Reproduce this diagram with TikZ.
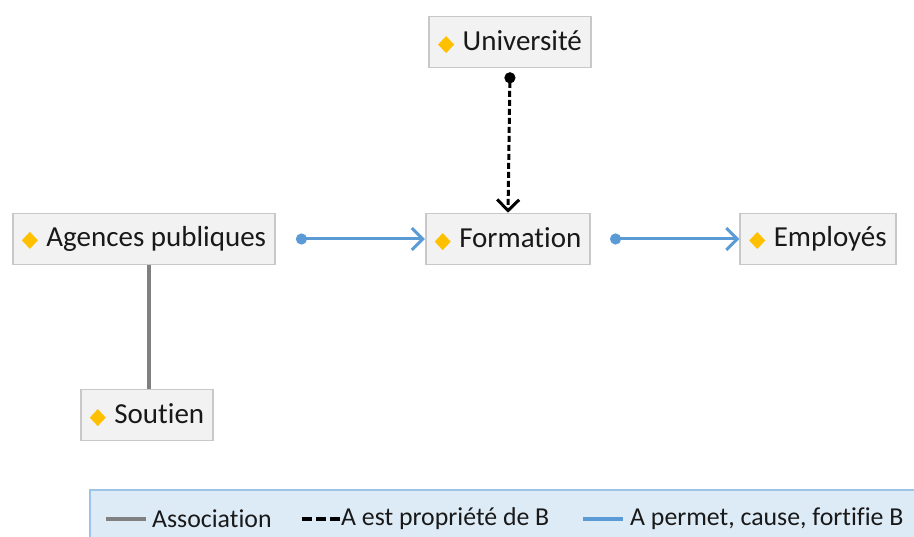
\documentclass[tikz,border=0pt]{standalone}
\usepackage{fontspec}
\setmainfont[Ligatures=NoCommon]{Carlito}
\usetikzlibrary{arrows.meta}

\definecolor{boxgray}{HTML}{F2F2F2}
\definecolor{boxline}{HTML}{C8C8C8}
\definecolor{gold}{HTML}{FFC000}
\definecolor{causeblue}{HTML}{5B9BD5}
\definecolor{assocgray}{HTML}{808080}
\definecolor{legendfill}{HTML}{DDEBF7}

\newcommand{\dmd}{\tikz[baseline=-0.45ex]\fill[gold] (0pt,8.5pt) -- (8pt,0pt) -- (0pt,-8.5pt) -- (-8pt,0pt) -- cycle;\hspace{2pt}}

\tikzset{
  concept/.style={draw=boxline, line width=1.6pt, fill=boxgray, minimum height=51pt,
    inner xsep=9pt, text=black!90, font=\fontsize{29}{31}\selectfont},
  cause/.style={causeblue, line width=3pt, {Circle[length=11pt]}-{Straight Barb[length=11pt,width=22pt,line width=3pt]}},
  property/.style={black, line width=3pt, dash pattern=on 6pt off 3pt,
    {Circle[length=11pt]}-{Straight Barb[length=11pt,width=22pt,line width=3pt]}},
  assoc/.style={assocgray, line width=3.2pt},
  legendtext/.style={anchor=west, inner sep=0pt, text=black!90, font=\fontsize{25.8}{28}\selectfont}
}

\begin{document}
\begin{tikzpicture}[x=1pt, y=-1pt]
  \useasboundingbox (0,0) rectangle (914,537);

  % concepts
  \node[concept] (univ) at (510, 42) {\dmd\ Université};
  \node[concept] (agences) at (144, 239) {\dmd\ Agences publiques};
  \node[concept] (formation) at (508, 239) {\dmd\ Formation};
  \node[concept] (employes) at (818, 239) {\dmd\ Employés};
  \node[concept] (soutien) at (147, 415) {\dmd\ Soutien};

  % links
  \draw[property] ([yshift=-4pt]univ.south) -- (formation.north);
  \draw[cause] ([xshift=20pt]agences.east) -- (formation.west);
  \draw[cause] ([xshift=19pt]formation.east) -- (employes.west);
  \draw[assoc] ([xshift=5pt]agences.south) -- ([xshift=2pt]soutien.north);

  % legend
  \fill[legendfill] (90, 490) rectangle (914, 537);
  \draw[causeblue!60, line width=1.6pt] (90, 537) -- (90, 490) -- (914, 490);
  \coordinate (la1) at (106, 519);
  \coordinate (la2) at (146, 519);
  \coordinate (lb1) at (302, 519);
  \coordinate (lb2) at (340, 519);
  \coordinate (lc1) at (583, 519);
  \coordinate (lc2) at (623, 519);
  \draw[assoc, line width=3.2pt] (la1) -- (la2);
  \draw[black, line width=3.4pt, dash pattern=on 10pt off 4pt] (lb1) -- (lb2);
  \draw[causeblue, line width=3.4pt] (lc1) -- (lc2);
  \node[legendtext] (assoclabel) at (152, 519) {Association};
  \node[legendtext] (proplabel) at (341, 519) {A est propriété de B};
  \node[legendtext] (causelabel) at (630, 519) {A permet, cause, fortifie B};
\end{tikzpicture}
\end{document}
